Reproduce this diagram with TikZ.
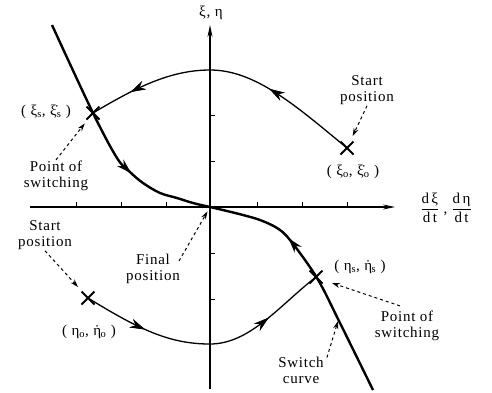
\documentclass[tikz,border=0pt]{standalone}
\usepackage{amsmath}
\usepackage{fontspec}
\setmainfont[LetterSpace=5]{Liberation Serif}
\usepackage{tikz}
\usetikzlibrary{arrows.meta, positioning, calc, shapes.misc, decorations.markings}

\newcommand{\etadot}{η\kern-0.45em˙\kern0.07em}

\begin{document}
\begin{tikzpicture}[
      x=1pt, y=-1pt,
      every node/.style={font=\fontsize{15}{16}\selectfont, align=center, inner sep=1pt},
      axis/.style={line width=1.2pt, -{Stealth[length=12pt, width=5pt]}},
      switchline/.style={line width=2.4pt},
      trajline/.style={line width=1.3pt},
      crossmark/.style={cross out, draw, line width=2pt, minimum size=11pt, inner sep=0pt},
      pointer/.style={dashed, line width=1pt, -{Stealth[length=8pt, width=5pt]}},
      midarrow/.style={postaction={decorate}, decoration={markings,
        mark=at position #1 with {\arrow{Stealth[length=15pt, width=9pt, inset=5pt]}}}}
    ]
      \useasboundingbox (0,0) rectangle (492,392);
      \coordinate (O) at (210,207);
      % axes
      \draw[axis] (30,207) -- (395,207);
      \draw[axis] (210,389) -- (210,25);
      \foreach \x in {76,121,166,257,302,347}
        \draw[line width=1pt] (\x,207) -- (\x,202);
      \foreach \y in {115,161,253,299}
        \draw[line width=1pt] (210,\y) -- (215,\y);
      \node (ylab) at (211,13) {ξ, η};
      \node (xlab) at (446,208) {$\dfrac{\text{d\,ξ}}{\text{d\,t}}$\;,\;$\dfrac{\text{d\,η}}{\text{d\,t}}$};
      % switch curve
      \draw[switchline, midarrow=0.66] plot[smooth, tension=0.55] coordinates
        {(52,25) (93,113) (117,158) (130,172) (143,183) (160,193) (177,198) (193,203) (210,207)};
      \draw[switchline, midarrow=0.67] plot[smooth, tension=0.55] coordinates
        {(373,390) (340,323) (317,278) (290,240) (277,228) (260,220) (243,215) (227,211) (210,207)};
      \coordinate (swpt) at (338,321);
      % trajectories
      \draw[trajline, midarrow=0.34, midarrow=0.85] (347,148)
        .. controls (295,105) and (255,70) .. (210,70)
        .. controls (170,70) and (135,88) .. (93,113);
      \draw[trajline, midarrow=0.25, midarrow=0.76] (88,298)
        .. controls (140,330) and (170,344) .. (210,344)
        .. controls (250,344) and (280,305) .. (316,277);
      % crosses
      \node[crossmark] (xis) at (93,113) {};
      \node[crossmark] (xio) at (347,148) {};
      \node[crossmark] (etao) at (88,298) {};
      \node[crossmark] (etas) at (316,277) {};
      % labels
      \node (xislab) at (46,112) {( ξ\textsubscript{s}, ξ̇\textsubscript{s} )};
      \node (xiolab) at (353,172) {( ξ\textsubscript{o}, ξ̇\textsubscript{o} )};
      \node (etaolab) at (89,332) {( η\textsubscript{o}, \etadot\textsubscript{o} )};
      \node (etaslab) at (360,267) {( η\textsubscript{s}, \etadot\textsubscript{s} )};
      \node (switchA) at (56,176) {Point of\\switching};
      \node (startA) at (367,90) {Start\\position};
      \node (startB) at (45,235) {Start\\position};
      \node (final) at (153,269) {Final\\position};
      \node (switchB) at (407,326) {Point of\\switching};
      \node (curvelab) at (301,370) {Switch\\curve};
      % pointers
      \draw[pointer, shorten >=5pt] (switchA.north) -- (xis);
      \draw[pointer, shorten >=6pt] (startA.south) -- (xio);
      \draw[pointer, shorten >=6pt] (startB.south) -- (etao);
      \draw[pointer, shorten >=5pt] ($(final.east)+(-2,-8)$) -- (O);
      \draw[pointer] ($(switchB.north)+(-7,-4)$) -- ($(etas)+(16,6)$);
      \draw[pointer] ($(curvelab.north east)+(2,2)$) -- (swpt);
    \end{tikzpicture}
\end{document}
